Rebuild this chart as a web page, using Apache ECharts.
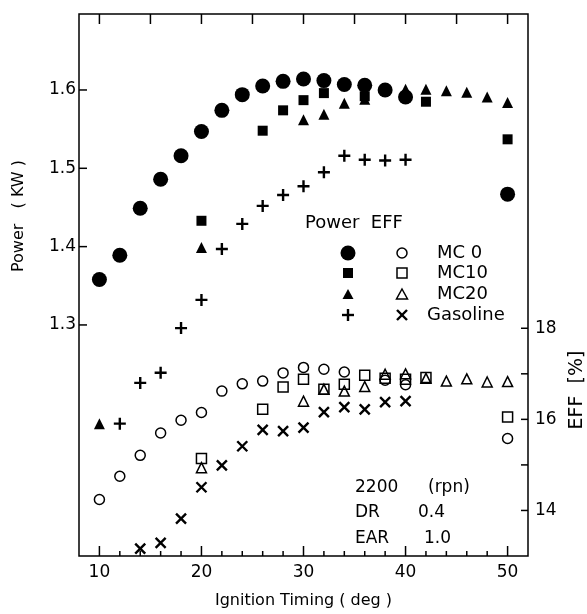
<!DOCTYPE html>
<html style="height: 100%">
<head>
    <meta charset="utf-8">
    <script src="https://cdn.jsdelivr.net/npm/echarts@6/dist/echarts.min.js"></script>
</head>
<body style="height: 100%; margin: 0; background: #fff">
    <div id="main" style="width: 587px; height: 614px"></div>
    <script type="text/javascript">
    var chartDom = document.getElementById('main');
    var myChart = echarts.init(chartDom);

    // Power (KW) vs ignition timing (deg) - filled symbols
    var mc0Power = [[10,1.358],[12,1.389],[14,1.449],[16,1.486],[18,1.516],[20,1.547],[22,1.574],[24,1.594],
                    [26,1.605],[28,1.611],[30,1.614],[32,1.612],[34,1.607],[36,1.606],[38,1.600],[40,1.591],[50,1.467]];
    var mc10Power = [[20,1.433],[26,1.548],[28,1.574],[30,1.587],[32,1.596],[36,1.592],[42,1.585],[50,1.537]];
    var mc20Power = [[10,1.174],[20,1.399],[30,1.562],[32,1.569],[34,1.583],[36,1.588],[40,1.601],[42,1.601],
                     [44,1.599],[46,1.597],[48,1.591],[50,1.584]];
    var gasPower = [[12,1.174],[14,1.226],[16,1.239],[18,1.296],[20,1.332],[22,1.397],[24,1.429],[26,1.452],
                    [28,1.466],[30,1.477],[32,1.495],[34,1.516],[36,1.511],[38,1.510],[40,1.511]];

    // EFF (%) - open symbols
    var mc0Eff = [[10,14.24],[12,14.75],[14,15.21],[16,15.70],[18,15.98],[20,16.15],[22,16.62],[24,16.78],
                  [26,16.84],[28,17.02],[30,17.14],[32,17.10],[34,17.04],[38,16.86],[40,16.76],[50,15.58]];
    var mc10Eff = [[20,15.14],[26,16.22],[28,16.71],[30,16.88],[32,16.66],[34,16.77],[36,16.97],[38,16.90],
                   [40,16.88],[42,16.92],[50,16.05]];
    var mc20Eff = [[20,14.94],[30,16.40],[32,16.66],[34,16.62],[36,16.72],[38,16.99],[40,17.00],[42,16.90],
                   [44,16.84],[46,16.89],[48,16.82],[50,16.83]];
    var gasEff = [[14,13.16],[16,13.29],[18,13.82],[20,14.51],[22,14.99],[24,15.41],[26,15.77],[28,15.74],
                  [30,15.82],[32,16.16],[34,16.27],[36,16.22],[38,16.38],[40,16.40]];

    var xTickLabels = [10, 20, 30, 40, 50];
    var powerTickLabels = ['1.3', '1.4', '1.5', '1.6'];
    var effTickLabels = [14, 16, 18];
    // tick mark positions (drawn after layout through the axis scales)
    var bottomTicks = [10,12,14,16,18,20,22,24,26,28,30,32,34,36,38,40,42,44,46,48,50];
    var topTicks = [10,15,20,25,30,35,40,45,50];
    var powerTicks = [1.3, 1.4, 1.5, 1.6];
    var effTicks = [14, 15, 16, 17, 18];

    var black = '#000';
    var fam = 'DejaVu Sans';
    var filledStyle = { color: black, opacity: 1 };
    var openStyle = { color: 'rgba(0,0,0,0)', borderColor: black, borderWidth: 1.5, opacity: 1 };
    var strokeStyle = { color: 'rgba(0,0,0,0)', borderColor: black, borderWidth: 2.4, opacity: 1 };
    var plusPath = 'path://M0,6L12,6M6,0L6,12';
    var crossPath = 'path://M0,0L10,10M0,10L10,0';

    function pts(name, yIdx, symbol, size, style, data) {
        return {
            name: name, type: 'scatter', xAxisIndex: 0, yAxisIndex: yIdx,
            symbol: symbol, symbolSize: size, itemStyle: style, data: data,
            silent: true
        };
    }
    function noLine() {
        return { show: false, onZero: false };
    }
    function labels(margin, fmt) {
        return { show: true, margin: margin, formatter: fmt, color: black, fontSize: 17, fontFamily: fam };
    }

    // legend drawn by hand: filled column, open column, label
    var legendRows = [
        { y: 253, label: 'MC 0', lx: 437 },
        { y: 273, label: 'MC10', lx: 437 },
        { y: 294, label: 'MC20', lx: 437 },
        { y: 315, label: 'Gasoline', lx: 427 }
    ];
    var fx = 348, ox = 402;
    var lineStyle = { stroke: black, lineWidth: 2.4 };
    var openLine = { fill: 'none', stroke: black, lineWidth: 1.5 };
    var r = legendRows;
    var legendGraphics = [
        { type: 'text', x: 305, y: 223, style: { text: 'Power  EFF', fontSize: 18, fontFamily: fam, fill: black, verticalAlign: 'middle' } },
        { type: 'circle', shape: { cx: fx, cy: r[0].y, r: 7.5 }, style: { fill: black } },
        { type: 'circle', shape: { cx: ox, cy: r[0].y, r: 5 }, style: openLine },
        { type: 'rect', shape: { x: fx - 5, y: r[1].y - 5, width: 10, height: 10 }, style: { fill: black } },
        { type: 'rect', shape: { x: ox - 5, y: r[1].y - 5, width: 10, height: 10 }, style: openLine },
        { type: 'polygon', shape: { points: [[fx, r[2].y - 5], [fx + 5.5, r[2].y + 5], [fx - 5.5, r[2].y + 5]] }, style: { fill: black } },
        { type: 'polygon', shape: { points: [[ox, r[2].y - 5], [ox + 5.5, r[2].y + 5], [ox - 5.5, r[2].y + 5]] }, style: openLine },
        { type: 'line', shape: { x1: fx - 6, y1: r[3].y, x2: fx + 6, y2: r[3].y }, style: lineStyle },
        { type: 'line', shape: { x1: fx, y1: r[3].y - 6, x2: fx, y2: r[3].y + 6 }, style: lineStyle },
        { type: 'line', shape: { x1: ox - 5, y1: r[3].y - 5, x2: ox + 5, y2: r[3].y + 5 }, style: lineStyle },
        { type: 'line', shape: { x1: ox - 5, y1: r[3].y + 5, x2: ox + 5, y2: r[3].y - 5 }, style: lineStyle }
    ];
    legendRows.forEach(function (row) {
        legendGraphics.push({ type: 'text', x: row.lx, y: row.y, style: { text: row.label, fontSize: 18, fontFamily: fam, fill: black, verticalAlign: 'middle' } });
    });

    var noteStyle = function (t) { return { text: t, fontSize: 17, fontFamily: fam, fill: black, verticalAlign: 'middle' }; };
    var otherGraphics = [
        { type: 'text', x: 355, y: 488, style: noteStyle('2200') },
        { type: 'text', x: 428, y: 488, style: noteStyle('(rpn)') },
        { type: 'text', x: 355, y: 513, style: noteStyle('DR') },
        { type: 'text', x: 418, y: 513, style: noteStyle('0.4') },
        { type: 'text', x: 355, y: 539, style: noteStyle('EAR') },
        { type: 'text', x: 424, y: 539, style: noteStyle('1.0') },
        { type: 'text', x: 19, y: 216, rotation: Math.PI / 2,
          style: { text: 'Power   ( KW )', fontSize: 16, fontFamily: fam, fill: black, align: 'center', verticalAlign: 'middle' } },
        { type: 'text', x: 577, y: 390, rotation: Math.PI / 2,
          style: { text: 'EFF  [%]', fontSize: 19, fontFamily: fam, fill: black, align: 'center', verticalAlign: 'middle' } }
    ];

    var option = {
        backgroundColor: '#fff',
        animation: false,
        grid: [
            // main plot
            { left: 79, right: 59, top: 14, bottom: 58, show: true, borderColor: black, borderWidth: 1.5 },
            // left label band 1.3 - 1.6
            { left: 79, right: 59, top: 90, bottom: 289.1 },
            // right label band 14 - 18
            { left: 79, right: 59, top: 328.3, bottom: 103.5 },
            // x labels 10 - 50
            { left: 99.4, right: 79.4, top: 14, bottom: 58 }
        ],
        xAxis: [
            { gridIndex: 0, type: 'value', min: 8, max: 52, show: false, axisLine: noLine() },
            { gridIndex: 1, type: 'value', show: false, axisLine: noLine() },
            { gridIndex: 2, type: 'value', show: false, axisLine: noLine() },
            { gridIndex: 3, type: 'value', position: 'bottom', min: 10, max: 50, interval: 10,
              axisLine: noLine(), axisTick: { show: false },
              axisLabel: labels(8, function (v) { return xTickLabels.indexOf(v) >= 0 ? String(v) : ''; }),
              splitLine: { show: false },
              name: 'Ignition Timing ( deg )', nameLocation: 'middle', nameGap: 37,
              nameTextStyle: { color: black, fontSize: 16, fontFamily: fam } }
        ],
        yAxis: [
            { gridIndex: 0, type: 'value', min: 1.005, max: 1.697, show: false, axisLine: noLine() },
            { gridIndex: 0, type: 'value', min: 13, max: 24.9, show: false, position: 'right', axisLine: noLine() },
            { gridIndex: 1, type: 'value', position: 'left', min: 1.3, max: 1.6, interval: 0.1,
              axisLine: noLine(), axisTick: { show: false },
              axisLabel: labels(3, function (v) { var s = v.toFixed(1); return powerTickLabels.indexOf(s) >= 0 ? s : ''; }),
              splitLine: { show: false } },
            { gridIndex: 2, type: 'value', position: 'right', min: 14, max: 18, interval: 1,
              axisLine: noLine(), axisTick: { show: false },
              axisLabel: labels(7, function (v) { return effTickLabels.indexOf(v) >= 0 ? String(v) : ''; }),
              splitLine: { show: false } },
            { gridIndex: 3, type: 'value', show: false, min: 0, max: 1, axisLine: noLine() }
        ],
        graphic: legendGraphics.concat(otherGraphics),
        series: [
            pts('MC 0 Power', 0, 'circle', 15, filledStyle, mc0Power),
            pts('MC10 Power', 0, 'rect', 10, filledStyle, mc10Power),
            pts('MC20 Power', 0, 'triangle', 11, filledStyle, mc20Power),
            pts('Gasoline Power', 0, plusPath, 12, strokeStyle, gasPower),
            pts('MC 0 EFF', 1, 'circle', 10, openStyle, mc0Eff),
            pts('MC10 EFF', 1, 'rect', 10, openStyle, mc10Eff),
            pts('MC20 EFF', 1, 'triangle', 10, openStyle, mc20Eff),
            pts('Gasoline EFF', 1, crossPath, 10, strokeStyle, gasEff)
        ]
    };

    myChart.setOption(option);

    // inward tick marks, placed through the axis scales
    var tickStyle = { stroke: black, lineWidth: 1.5 };
    var xLeft = myChart.convertToPixel({ xAxisIndex: 0 }, 8);
    var xRight = myChart.convertToPixel({ xAxisIndex: 0 }, 52);
    var yTop = myChart.convertToPixel({ yAxisIndex: 0 }, 1.697);
    var yBottom = myChart.convertToPixel({ yAxisIndex: 0 }, 1.005);
    var tickLines = [];
    bottomTicks.forEach(function (v) {
        var px = myChart.convertToPixel({ xAxisIndex: 0 }, v);
        var len = v % 10 === 0 ? 10 : 5;
        tickLines.push({ type: 'line', shape: { x1: px, y1: yBottom, x2: px, y2: yBottom - len }, style: tickStyle });
    });
    topTicks.forEach(function (v) {
        var px = myChart.convertToPixel({ xAxisIndex: 0 }, v);
        tickLines.push({ type: 'line', shape: { x1: px, y1: yTop, x2: px, y2: yTop + 10 }, style: tickStyle });
    });
    powerTicks.forEach(function (v) {
        var py = myChart.convertToPixel({ yAxisIndex: 0 }, v);
        tickLines.push({ type: 'line', shape: { x1: xLeft, y1: py, x2: xLeft + 8, y2: py }, style: tickStyle });
    });
    effTicks.forEach(function (v) {
        var py = myChart.convertToPixel({ yAxisIndex: 1 }, v);
        tickLines.push({ type: 'line', shape: { x1: xRight, y1: py, x2: xRight - 7, y2: py }, style: tickStyle });
    });
    myChart.setOption({ graphic: legendGraphics.concat(otherGraphics, tickLines) });
    </script>
</body>
</html>
